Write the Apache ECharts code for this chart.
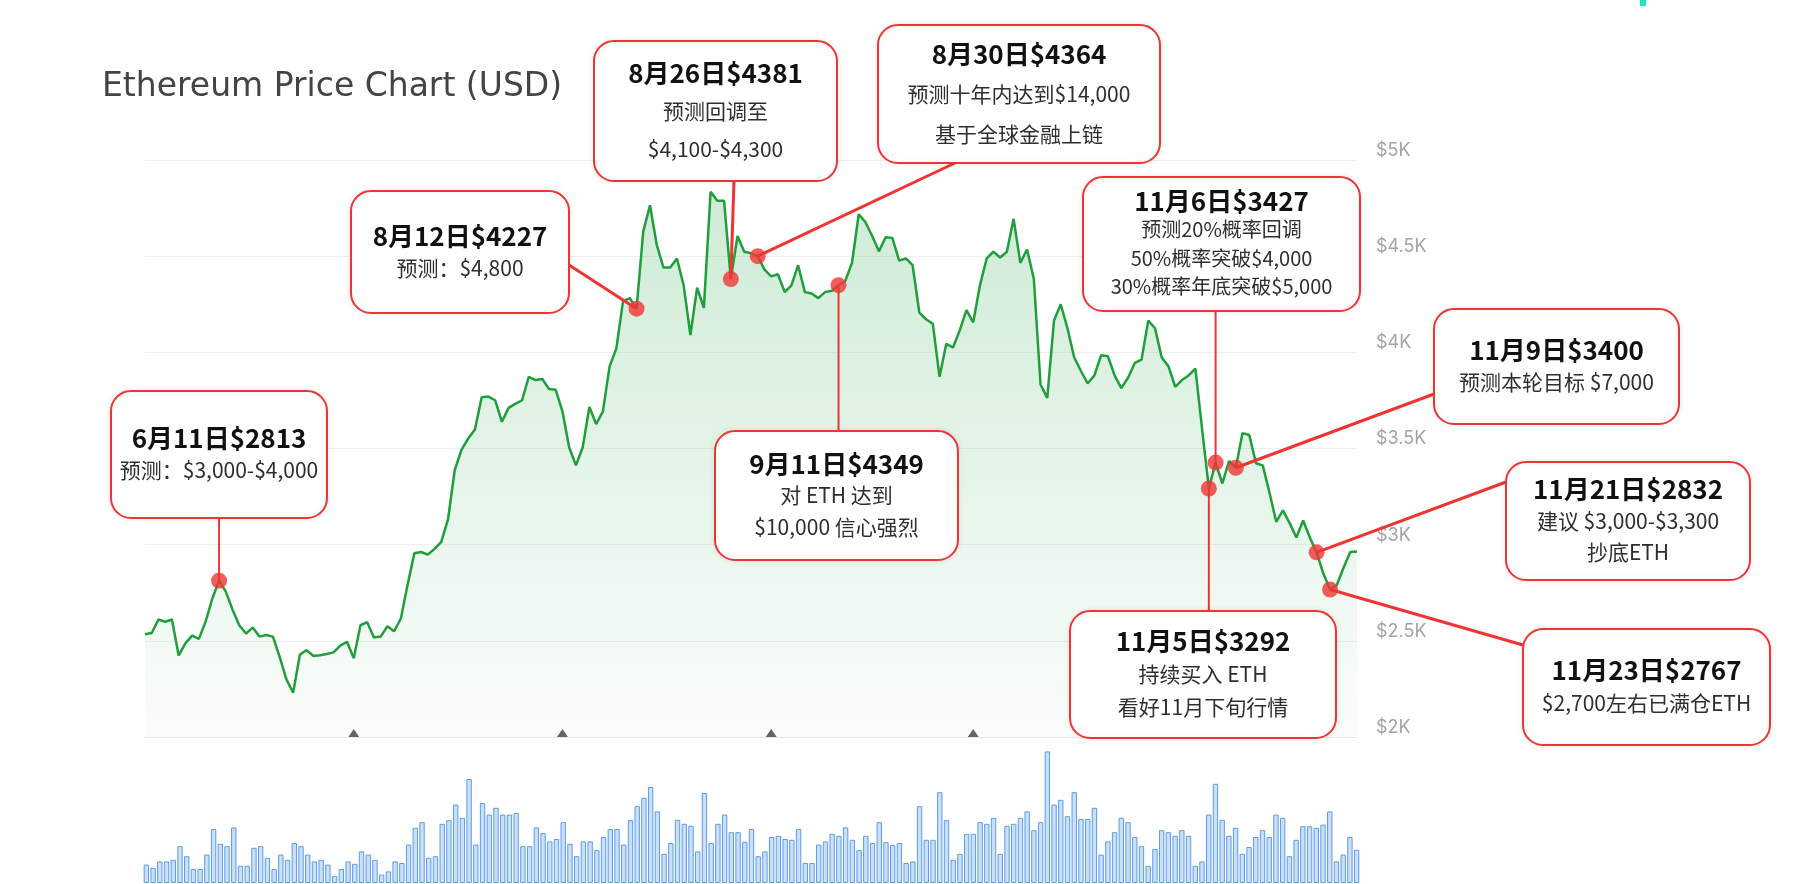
<!DOCTYPE html>
<html><head><meta charset="utf-8">
<script src="https://cdn.jsdelivr.net/npm/echarts@6/dist/echarts.min.js"></script>
<style>html,body{margin:0;padding:0;background:#fff}#c{width:1795px;height:884px}</style>
</head><body><div id="c"></div>
<script>
// ---------- data ----------
const startDate = '2025-05-31';
const dayCount = 181;
const prices = [
2534,2541,2611,2599,2611,2424,2487,2527,2510,2600,
2720,2813,2756,2662,2581,2538,2569,2522,2530,2522,
2417,2300,2230,2428,2452,2421,2425,2432,2440,2475,
2495,2410,2581,2597,2517,2522,2576,2550,2616,2791,
2955,2962,2948,2978,3014,3131,3388,3493,3552,3599,
3767,3770,3751,3639,3711,3732,3751,3873,3856,3861,
3809,3805,3692,3505,3412,3505,3716,3627,3692,3927,
4020,4266,4282,4227,4629,4765,4559,4441,4441,4488,
4348,4090,4336,4231,4835,4788,4788,4381,4605,4523,
4515,4500,4430,4395,4406,4313,4348,4453,4313,4306,
4282,4313,4320,4349,4371,4465,4718,4676,4605,4525,
4598,4594,4477,4488,4453,4207,4172,4149,3873,4044,
4025,4114,4219,4156,4348,4488,4523,4493,4523,4694,
4465,4535,4383,3833,3763,4165,4250,4125,3973,3903,
3838,3880,3985,3980,3880,3814,3868,3945,3962,4165,
4125,3973,3927,3821,3856,3880,3915,3599,3292,3427,
3318,3435,3400,3580,3570,3423,3412,3271,3119,3178,
3112,3037,3126,3037,2960,2850,2767,2790,2880,2962,
2965];
const volumes = [
4.6,3.8,5.4,5.4,5.8,9.2,6.7,3.5,3.5,7.1,
13.5,9.8,9.2,13.9,4.3,4.3,8.8,9.2,6.3,3.5,
7.1,5.8,10,9.2,7.1,5.4,5.8,4.6,1.8,3.5,
5.4,4.8,7.9,7.1,5.8,2.1,2.9,5.4,5,9.6,
13.8,15.2,6.3,6.7,14.8,15.7,19.6,16.3,26,9.6,
20,17.1,18.8,17.1,17.1,17.5,9.2,9.2,13.9,12.5,
10.4,11,15.2,9.8,6.7,10.4,10.4,8.2,11.5,13.5,
13.5,9.6,15.7,19.2,21.3,24,17.9,7.3,10,15.8,
14.8,14.3,7.9,22.5,10,14.8,17.1,12.7,12.7,10.3,
13.5,6.7,7.9,11.5,11.8,11,10.8,13.5,5,5,
9.6,10.4,12.3,11.8,13.9,10.8,8.2,11.8,10,15.2,
10.2,9.5,
10,5,5.4,19.2,10.8,10.8,22.7,15.7,5.8,7.3,
12.3,12.3,15.2,14.8,16.3,7.3,14.3,14.8,16.3,17.9,13.2,
15.2,32.9,19.6,20.8,16.7,22.7,16,16,18.8,7.1,
10.4,12.7,16.3,15.2,11.5,9.2,4.3,8.5,13.2,12.7,
11.8,13.2,11.8,4.3,5.4,17.1,24.8,15.8,11.8,13.8,
7.3,9,11.5,13.2,11.5,17.1,16.3,6.7,10.8,14.2,
14.2,13.8,14.6,17.9,5.4,7.1,11.5,8.3];
const priceTicks = [2000,2500,3000,3500,4000,4500,5000];
const priceTickLabels = ['$2K','$2.5K','$3K','$3.5K','$4K','$4.5K','$5K'];
const monthMarks = ['2025-07-01','2025-08-01','2025-09-01','2025-10-01','2025-11-01'];
const annDates = ['2025-06-11','2025-08-12','2025-08-26','2025-08-30','2025-09-11','2025-11-05','2025-11-06','2025-11-09','2025-11-21','2025-11-23'];
const annTitles = ['6月11日$2813','8月12日$4227','8月26日$4381','8月30日$4364','9月11日$4349','11月5日$3292','11月6日$3427','11月9日$3400','11月21日$2832','11月23日$2767'];
const annNotes = [
  ['预测：$3,000-$4,000'],
  ['预测：$4,800'],
  ['预测回调至','$4,100-$4,300'],
  ['预测十年内达到$14,000','基于全球金融上链'],
  ['对 ETH 达到','$10,000 信心强烈'],
  ['持续买入 ETH','看好11月下旬行情'],
  ['预测20%概率回调','50%概率突破$4,000','30%概率年底突破$5,000'],
  ['预测本轮目标 $7,000'],
  ['建议 $3,000-$3,300','抄底ETH'],
  ['$2,700左右已满仓ETH']
];

// ---------- layout (not data) ----------
const boxLayout = [
  {x:111, y:391, w:216, h:127, lh:32, fs:21, link:'bottom'},
  {x:351, y:191, w:218, h:122, lh:32, fs:21, link:[569,265]},
  {x:594, y:41, w:243, h:140, lh:38, fs:21, link:[734,181]},
  {x:878, y:25, w:282, h:138, lh:40, fs:21, link:[955,163]},
  {x:715, y:431, w:243, h:129, lh:31.5, fs:21, link:'top'},
  {x:1070, y:611, w:266, h:127, lh:33, fs:21, link:'top'},
  {x:1083, y:177, w:277, h:134, lh:28.5, fs:20, link:'bottom'},
  {x:1434, y:309, w:245, h:115, lh:32, fs:21, link:[1434,394]},
  {x:1506, y:462, w:244, h:118, lh:31.5, fs:21, link:[1506,482]},
  {x:1523, y:629, w:247, h:116, lh:33, fs:21, link:[1523,645]}
];
const RED = '#f03434';
const CJK = '"Noto Sans CJK SC", "Noto Sans", sans-serif';

// categories: consecutive days
const categories = [];
(function(){
  const d0 = new Date(startDate + 'T00:00:00Z');
  for (let i = 0; i < dayCount; i++) {
    const d = new Date(d0.getTime() + i * 86400000);
    categories.push(d.toISOString().slice(0,10));
  }
})();

const chart = echarts.init(document.getElementById('c'));
const option = {
  animation: false,
  backgroundColor: '#ffffff',
  title: {
    text: 'Ethereum Price Chart (USD)', left: 97, top: 66,
    textStyle: {fontFamily: '"DejaVu Sans", sans-serif', fontSize: 33, fontWeight: 'normal', color: '#444444'}
  },
  grid: [
    {left: 145, right: 438, top: 160, bottom: 147},
    {left: 143, right: 435, top: 743, bottom: 1}
  ],
  xAxis: [
    {type: 'category', data: categories, boundaryGap: false, gridIndex: 0,
     axisLine: {show: true, lineStyle: {color: '#e6e6e6'}}, axisTick: {show: false}, axisLabel: {show: false}},
    {type: 'category', data: categories, boundaryGap: true, gridIndex: 1,
     axisLine: {show: false}, axisTick: {show: false}, axisLabel: {show: false}}
  ],
  yAxis: [
    {type: 'value', gridIndex: 0, position: 'right', min: 2000, max: 5000, interval: 500,
     splitLine: {lineStyle: {color: '#efefef', width: 1}},
     axisLine: {show: false}, axisTick: {show: false},
     axisLabel: {margin: 19, color: '#a3a3a3', fontSize: 18, fontFamily: 'Inter, "Noto Sans", sans-serif',
       verticalAlign: 'bottom', lineHeight: 19,
       formatter: v => { const k = priceTicks.indexOf(v); return k >= 0 ? priceTickLabels[k] : ''; }}},
    {type: 'value', gridIndex: 1, min: 0, max: 35, show: false}
  ],
  series: [
    {type: 'line', name: 'ETH', xAxisIndex: 0, yAxisIndex: 0, data: prices, showSymbol: false, z: 2,
     lineStyle: {color: '#1f9e3b', width: 2.5},
     areaStyle: {color: new echarts.graphic.LinearGradient(0,0,0,1,[
       {offset: 0, color: 'rgba(44,170,76,0.33)'},
       {offset: 1, color: 'rgba(44,170,76,0.03)'}])}},
    {type: 'bar', name: 'Volume', xAxisIndex: 1, yAxisIndex: 1, data: volumes, barCategoryGap: '20%',
     itemStyle: {color: 'rgba(130,180,238,0.42)', borderColor: '#5b9de8', borderWidth: 1}},
    {type: 'scatter', name: 'months', xAxisIndex: 0, yAxisIndex: 0, z: 3,
     data: monthMarks.map(d => [d, 2000]), symbol: 'triangle', symbolSize: [11, 8], symbolOffset: [0, -4],
     itemStyle: {color: '#3d3d3d'}, silent: true},
    {type: 'scatter', name: 'calls', xAxisIndex: 0, yAxisIndex: 0, z: 6,
     data: annDates.map(d => [d, prices[categories.indexOf(d)]]), symbol: 'circle', symbolSize: 16,
     itemStyle: {color: RED}}
  ]
};
chart.setOption(option);

// callout boxes and connector lines
const g = [{type: 'rect', z: 1, shape: {x: 1640, y: 0, width: 6, height: 6}, style: {fill: '#1fe3c2'}}];
annDates.forEach((d, k) => {
  const idx = categories.indexOf(d);
  const p = chart.convertToPixel({xAxisIndex: 0, yAxisIndex: 0}, [idx, prices[idx]]);
  const b = boxLayout[k];
  let a;
  if (b.link === 'bottom') a = [p[0], b.y + b.h];
  else if (b.link === 'top') a = [p[0], b.y];
  else a = b.link;
  g.push({type: 'line', z: 5, shape: {x1: a[0], y1: a[1], x2: p[0], y2: p[1]},
    style: {stroke: RED, lineWidth: typeof b.link === 'string' ? 2 : 3}});
  g.push({type: 'rect', z: 10, shape: {x: b.x, y: b.y, width: b.w, height: b.h, r: 20},
    style: {fill: '#ffffff', stroke: RED, lineWidth: 2, shadowBlur: 6, shadowColor: 'rgba(0,0,0,0.08)'}});
  const lines = [annTitles[k]].concat(annNotes[k]);
  const cx = b.x + b.w / 2, cy = b.y + b.h / 2;
  const y0 = cy - (lines.length - 1) * b.lh / 2;
  lines.forEach((t, j) => {
    g.push({type: 'text', z: 11, x: cx, y: y0 + j * b.lh,
      style: {text: t, align: 'center', verticalAlign: 'middle', fontFamily: CJK,
        fontSize: j === 0 ? 26 : b.fs, fontWeight: j === 0 ? 'bold' : 'normal', fill: j === 0 ? '#111111' : '#2e2e2e'}});
  });
});
chart.setOption({graphic: g});
</script>
</body></html>
